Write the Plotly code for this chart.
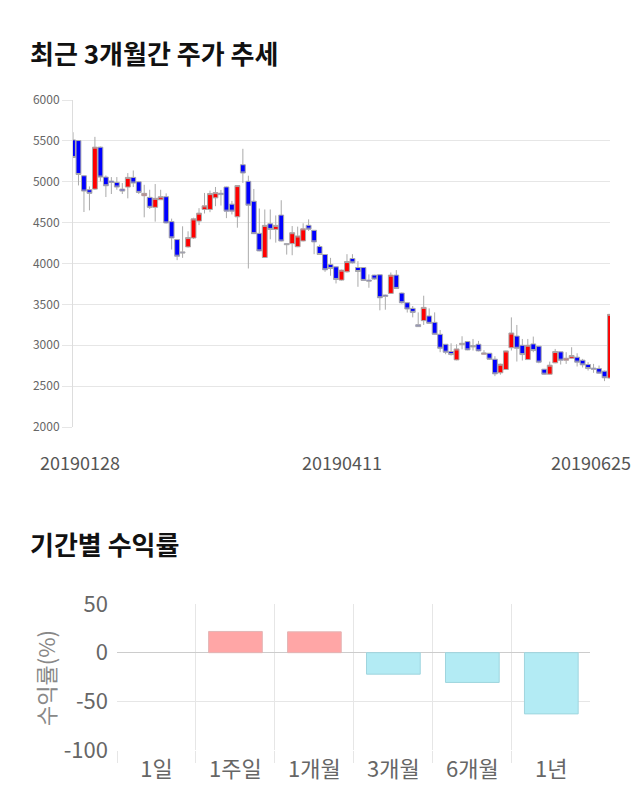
import plotly.graph_objects as go

# ---- price data (daily candles, 20190128 .. 20190625) ----
opens = [5512, 5504, 5073, 4902, 4910, 5423, 5057, 5008, 4992, 4910,
         4935, 5053, 5000, 4829, 4809, 4687, 4780, 4817, 4512, 4293,
         4142, 4203, 4312, 4519, 4661, 4661, 4803, 4859, 4936, 4726,
         4571, 5208, 5005, 4762, 4369, 4073, 4486, 4417, 4592, 4243,
         4243, 4205, 4276, 4467, 4406, 4208, 4110, 3988, 3959, 3797,
         3898, 4061, 3951, 3951, 3797, 3858, 3862, 3614, 3634, 3858,
         3638, 3520, 3451, 3252, 3301, 3358, 3280, 3134, 3012, 2923,
         2821, 3008, 3045, 2996, 3012, 2890, 2902, 2829, 2663, 2703,
         2969, 3112, 3000, 2825, 3016, 2988, 2707, 2646, 2785, 2919,
         2817, 2841, 2854, 2817, 2764, 2720, 2715, 2683, 2598]
highs = [5606, 5510, 5080, 4943, 5549, 5430, 5077, 5057, 5057, 4984,
         5106, 5138, 5010, 4963, 4902, 4972, 4902, 4858, 4549, 4300,
         4455, 4394, 4560, 4677, 4863, 4892, 4936, 4900, 4940, 4766,
         4960, 5403, 5074, 4912, 4673, 4661, 4661, 4588, 4774, 4245,
         4458, 4451, 4492, 4540, 4410, 4230, 4115, 4069, 3960, 3925,
         4114, 4114, 4028, 3955, 3866, 3862, 3865, 3620, 3890, 3919,
         3645, 3525, 3480, 3402, 3606, 3451, 3402, 3187, 3015, 3024,
         3012, 3110, 3050, 3077, 3053, 2940, 2905, 2866, 2775, 2935,
         3341, 3248, 3077, 3077, 3106, 2990, 2710, 2800, 2955, 2922,
         2915, 2976, 2902, 2833, 2793, 2772, 2752, 2690, 3380]
lows = [5290, 4955, 4630, 4650, 4900, 5004, 4813, 4850, 4902, 4850,
        4797, 4935, 4850, 4565, 4667, 4512, 4776, 4490, 4171, 4041,
        4069, 4195, 4300, 4470, 4612, 4628, 4701, 4709, 4555, 4600,
        4438, 4985, 3939, 4360, 4150, 4073, 4296, 4255, 4270, 4109,
        4101, 4200, 4270, 4398, 4114, 4105, 3898, 3850, 3756, 3790,
        3890, 4000, 3715, 3790, 3703, 3800, 3427, 3435, 3630, 3690,
        3510, 3400, 3341, 3225, 3248, 3260, 3130, 2915, 2890, 2874,
        2815, 2950, 2940, 2935, 2925, 2885, 2820, 2622, 2640, 2700,
        2935, 2801, 2813, 2820, 2915, 2780, 2640, 2640, 2780, 2764,
        2772, 2835, 2740, 2728, 2690, 2663, 2650, 2561, 2590]
closes = [5297, 5089, 4886, 4858, 5423, 5057, 4951, 4992, 4935, 4886,
          5053, 4984, 4870, 4858, 4687, 4797, 4817, 4496, 4313, 4089,
          4130, 4317, 4546, 4616, 4705, 4855, 4867, 4843, 4640, 4640,
          4953, 5107, 4713, 4365, 4154, 4466, 4417, 4466, 4275, 4231,
          4377, 4337, 4424, 4420, 4264, 4110, 3923, 3939, 3805, 3919,
          4024, 4008, 3902, 3793, 3785, 3809, 3581, 3598, 3858, 3695,
          3520, 3443, 3402, 3228, 3463, 3268, 3134, 2963, 2915, 2886,
          2955, 3024, 2943, 2980, 2931, 2906, 2829, 2650, 2768, 2931,
          3150, 2963, 2886, 3000, 2935, 2793, 2646, 2756, 2923, 2817,
          2841, 2874, 2793, 2760, 2715, 2707, 2659, 2602, 3378]
day_index = list(range(len(opens)))
date_tick_index = [0, 49, 98]
date_tick_text = ["20190128", "20190411", "20190625"]
date_tick_shift = [7, 0, -19]
price_ticks = [2000, 2500, 3000, 3500, 4000, 4500, 5000, 5500, 6000]

# ---- period returns ----
periods = ["1일", "1주일", "1개월", "3개월", "6개월", "1년"]
returns = [0, 21.8, 21.4, -22.1, -30.6, -62.9]
return_ticks = [-100, -50, 0, 50]
return_tick_text = ["-100", "-50", "0", "50"]

FONT = "Noto Sans CJK KR"
W, H = 640, 810

def px_x(p):
    return p / W

def px_y(p):
    return 1 - p / H

fig = go.Figure()

fig.add_trace(go.Candlestick(
    x=day_index, open=opens, high=highs, low=lows, close=closes,
    increasing=dict(line=dict(color="#aaaaaa", width=1), fillcolor="#ff0000"),
    decreasing=dict(line=dict(color="#aaaaaa", width=1), fillcolor="#0000ff"),
    whiskerwidth=0, showlegend=False, xaxis="x", yaxis="y",
))

bar_colors = ["#ffa6a6" if v >= 0 else "#b3ebf4" for v in returns]
bar_lines = ["#e3b5b5" if v >= 0 else "#9fd5de" for v in returns]
bar_line_w = [0 if v == 0 else 1 for v in returns]
fig.add_trace(go.Bar(
    x=periods, y=returns, xaxis="x2", yaxis="y2", showlegend=False,
    marker=dict(color=bar_colors, line=dict(color=bar_lines, width=bar_line_w)),
))

grid = "#e6e6e6"
fig.update_layout(
    width=W, height=H,
    margin=dict(l=0, r=0, t=0, b=0, autoexpand=False),
    paper_bgcolor="white", plot_bgcolor="white",
    showlegend=False,
    font=dict(family=FONT, color="#666666"),
    boxgap=0.08, boxgroupgap=0.04,
    bargap=0.32,
    xaxis=dict(domain=[px_x(73), px_x(610)], range=[0, 98], anchor="y",
               showgrid=False, showticklabels=False, zeroline=False,
               automargin=False,
               rangeslider=dict(visible=False), fixedrange=True),
    yaxis=dict(domain=[px_y(427), px_y(100)], range=[2000, 6000], anchor="x",
               tickvals=price_ticks, gridcolor=grid, zeroline=False,
               showline=True, linecolor="#dddddd", linewidth=1,
               ticks="outside", ticklen=10, tickcolor=grid, automargin=False,
               tickfont=dict(size=12, color="#666666"), fixedrange=True),
    xaxis2=dict(domain=[px_x(117), px_x(590)], anchor="y2", type="category",
                range=[-0.5, 5.49],
                tickson="boundaries", ticks="outside", ticklen=12, tickcolor=grid,
                showgrid=True, gridcolor=grid, automargin=False,
                ticklabelstandoff=4,
                tickfont=dict(size=22, color="#666666"), fixedrange=True),
    yaxis2=dict(domain=[px_y(750), px_y(604)], range=[-100, 50], anchor="x2",
                tickvals=return_ticks, ticktext=return_tick_text,
                gridcolor=grid, zeroline=True,
                zerolinecolor="#cccccc", zerolinewidth=1,
                ticklabelstandoff=8, automargin=False,
                tickfont=dict(size=22, color="#666666"), fixedrange=True),
)

annotations = [
    dict(text="<b>최근 3개월간 주가 추세</b>", xref="paper", yref="paper",
         x=px_x(28), y=px_y(52), xanchor="left", yanchor="middle",
         showarrow=False, font=dict(size=26, color="#111111", family=FONT)),
    dict(text="<b>기간별 수익률</b>", xref="paper", yref="paper",
         x=px_x(28), y=px_y(543), xanchor="left", yanchor="middle",
         showarrow=False, font=dict(size=26, color="#111111", family=FONT)),
    dict(text="수익률(%)", xref="paper", yref="paper",
         x=px_x(45), y=px_y(678), xanchor="center", yanchor="middle",
         textangle=-90, showarrow=False,
         font=dict(size=22, color="#888888", family=FONT)),
]
for idx, txt, sh in zip(date_tick_index, date_tick_text, date_tick_shift):
    annotations.append(dict(text=txt, xref="x", yref="paper", x=idx, y=px_y(462),
                            xanchor="center", yanchor="middle", xshift=sh,
                            showarrow=False,
                            font=dict(size=18, color="#555555", family=FONT)))
fig.update_layout(annotations=annotations)

fig.write_html("out.html")
